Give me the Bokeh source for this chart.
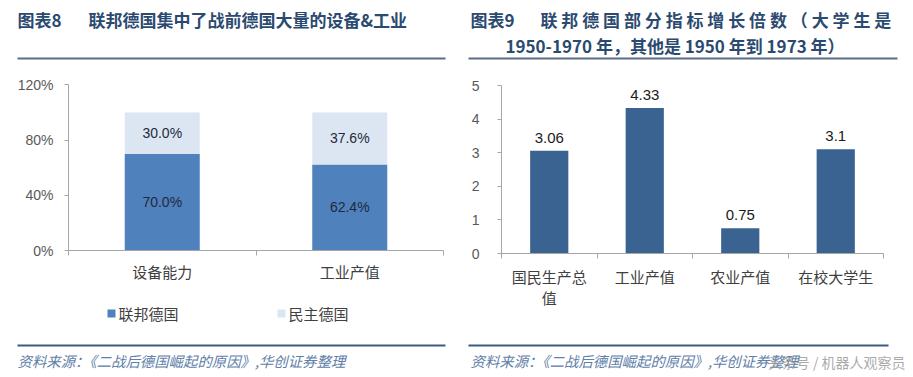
from bokeh.plotting import figure
from bokeh.models import (Range1d, FixedTicker, NumeralTickFormatter, ColumnDataSource,
                          LabelSet, LinearAxis)
from bokeh.core.properties import value
from bokeh.embed import file_html
from bokeh.resources import INLINE

# ---------------- data ----------------
cats1 = ["设备能力", "工业产值"]
series1_names = ["联邦德国", "民主德国"]
west = [0.700, 0.624]
east = [0.300, 0.376]
pct_ticks = [0, 0.4, 0.8, 1.2]

cats2 = ["国民生产总值", "工业产值", "农业产值", "在校大学生"]
growth = [3.06, 4.33, 0.75, 3.1]
growth_ticks = [0, 1, 2, 3, 4, 5]

title1_tag = "图表8"
title1 = "联邦德国集中了战前德国大量的设备&工业"
title2_tag = "图表9"
title2_a = "联 邦 德 国 部 分 指 标 增 长 倍 数 （ 大 学 生 是"
title2_b = "1950-1970 年，其他是 1950 年到 1973 年）"
source_note = "资料来源：《二战后德国崛起的原因》,华创证券整理"
watermark = "头条号 / 机器人观察员"

# ---------------- styles ----------------
CJK = "Noto Sans CJK SC"
NUM = "Liberation Sans"
DARK = "#4f81bd"
LIGHT = "#dce6f2"
BAR2 = "#3b6391"
AX = "#a6a6a6"
TICK_TXT = "#595959"
CAT_TXT = "#404040"
TITLE_C = "#2b4a6f"
NOTE_C = "#5f80a8"
RULE_TOP = "#5b6d84"
RULE_BOT = "#3d5a80"

W, H = 913, 377

p = figure(width=W, height=H, x_range=Range1d(0, W), y_range=Range1d(H, 0),
           output_backend="svg", toolbar_location=None,
           x_axis_location=None, y_axis_location=None,
           min_border_left=0, min_border_right=0, min_border_top=0, min_border_bottom=0)
p.grid.visible = False
p.outline_line_color = None
p.background_fill_color = "white"
p.border_fill_color = "white"


def x_map(v0, v1, p0, p1):
    """Range so that value v0 lands at pixel p0 and v1 at p1 (pixels from left)."""
    s = (p1 - p0) / (v1 - v0)
    start = v0 - p0 / s
    return Range1d(start, start + W / s)


def y_map(v0, v1, p0, p1):
    """Range so that value v0 lands at pixel p0 and v1 at p1 (pixels from top)."""
    q0, q1 = H - p0, H - p1
    s = (q1 - q0) / (v1 - v0)
    start = v0 - q0 / s
    return Range1d(start, start + H / s)


p.extra_x_ranges = {"x1": x_map(0, len(cats1), 68, 443), "x2": x_map(0, len(cats2), 501, 883)}
p.extra_y_ranges = {"y1": y_map(0, pct_ticks[-1], 250, 84.4), "y2": y_map(0, growth_ticks[-1], 253, 85)}


def txt(x, y, text, size, color, font=CJK, style="normal", align="left", alpha=1.0):
    p.text(x=[x], y=[y], text=[text], text_font=value(font), text_font_size=value(size),
           text_color=color, text_font_style=style, text_align=align, text_baseline="middle",
           text_alpha=alpha)


def rule(x0, x1, y, color, th=2):
    p.segment(x0=[x0], y0=[y], x1=[x1], y1=[y], line_color=color, line_width=th)


def add_axes(xr, yr, xpos, xlabels, yticks, yfmt, ystandoff, xstandoff, line_h=1.2):
    ya = LinearAxis(x_range_name=xr, y_range_name=yr, fixed_location=0,
                    bounds=(yticks[0], yticks[-1]),
                    ticker=FixedTicker(ticks=yticks, minor_ticks=[]),
                    formatter=NumeralTickFormatter(format=yfmt))
    ya.axis_line_color = AX
    ya.major_tick_line_color = AX
    ya.major_tick_in = 0
    ya.major_tick_out = 4
    ya.minor_tick_line_color = None
    ya.major_label_text_font = NUM
    ya.major_label_text_font_size = "14px"
    ya.major_label_text_color = TICK_TXT
    ya.major_label_standoff = ystandoff
    p.add_layout(ya, "left")

    xa = LinearAxis(x_range_name=xr, y_range_name=yr, fixed_location=yticks[0],
                    bounds=(0, len(xpos)),
                    ticker=FixedTicker(ticks=xpos, minor_ticks=list(range(len(xpos) + 1))))
    xa.major_label_overrides = {x: c for x, c in zip(xpos, xlabels)}
    xa.axis_line_color = AX
    xa.major_tick_line_color = None
    xa.major_tick_in = 0
    xa.major_tick_out = 0
    xa.minor_tick_line_color = AX
    xa.minor_tick_in = 0
    xa.minor_tick_out = 5
    xa.major_label_text_font = CJK
    xa.major_label_text_font_size = "15px"
    xa.major_label_text_color = CAT_TXT
    xa.major_label_text_line_height = line_h
    xa.major_label_standoff = xstandoff
    p.add_layout(xa, "below")


# ================= left chart =================
xpos1 = [i + 0.5 for i in range(len(cats1))]
src1 = ColumnDataSource(dict(x=xpos1, west=west, east=east))
p.vbar_stack(["west", "east"], x="x", width=0.4, fill_color=[DARK, LIGHT],
             line_color=None, source=src1, x_range_name="x1", y_range_name="y1")
lab1 = ColumnDataSource(dict(
    x=xpos1 + xpos1,
    y=[w / 2 for w in west] + [w + e / 2 for w, e in zip(west, east)],
    text=[f"{v * 100:.1f}%" for v in west + east]))
p.add_layout(LabelSet(x="x", y="y", text="text", source=lab1, text_align="center",
                      text_baseline="middle", text_font=value(NUM),
                      text_font_size=value("14px"), text_color=value("#1f2a3c"),
                      x_range_name="x1", y_range_name="y1"))
add_axes("x1", "y1", xpos1, cats1, pct_ticks, "0%", 11, 5)

# legend of left chart
leg_colors = [DARK, LIGHT]
leg_x = [111 + 170 * i for i in range(len(series1_names))]
p.scatter(x=leg_x, y=[313] * len(leg_x), marker="square", size=8,
          fill_color=leg_colors, line_color=None)
p.text(x=[x + 7 for x in leg_x], y=[313] * len(leg_x), text=series1_names,
       text_font=value(CJK), text_font_size=value("15px"), text_color=CAT_TXT,
       text_align="left", text_baseline="middle")

# titles / rules / notes of left panel
txt(17, 19, title1_tag, "17px", TITLE_C, style="bold")
txt(88, 19, title1, "17px", TITLE_C, style="bold")
rule(17, 445, 58, RULE_TOP)
rule(17, 445, 345, RULE_BOT)
txt(17, 360, source_note, "14.4px", NOTE_C, style="italic")

# ================= right chart =================
xpos2 = [i + 0.5 for i in range(len(cats2))]
disp2 = [c if len(c) <= 5 else c[:5] + "\n" + c[5:] for c in cats2]
src2 = ColumnDataSource(dict(x=xpos2, v=growth, text=[f"{g:g}" for g in growth]))
p.vbar(x="x", top="v", width=0.4, fill_color=BAR2, line_color=None, source=src2,
       x_range_name="x2", y_range_name="y2")
p.add_layout(LabelSet(x="x", y="v", text="text", source=src2, text_align="center",
                      text_baseline="middle", y_offset=13, text_font=value(NUM),
                      text_font_size=value("15px"), text_color=value("#1a1a1a"),
                      x_range_name="x2", y_range_name="y2"))
add_axes("x2", "y2", xpos2, disp2, growth_ticks, "0", 18, 7, line_h=1.0)

txt(470, 19, title2_tag, "17px", TITLE_C, style="bold")
txt(540, 19, title2_a, "17px", TITLE_C, style="bold")
txt(505, 45, title2_b, "17px", TITLE_C, style="bold")
rule(468, 897, 58, RULE_TOP)
rule(468, 888, 345, RULE_BOT)
txt(470, 360, source_note, "14.4px", NOTE_C, style="italic")
txt(905, 361, watermark, "14px", "#9a9a9a", align="right", alpha=0.85)

open("out.html", "w").write(file_html(p, INLINE))
